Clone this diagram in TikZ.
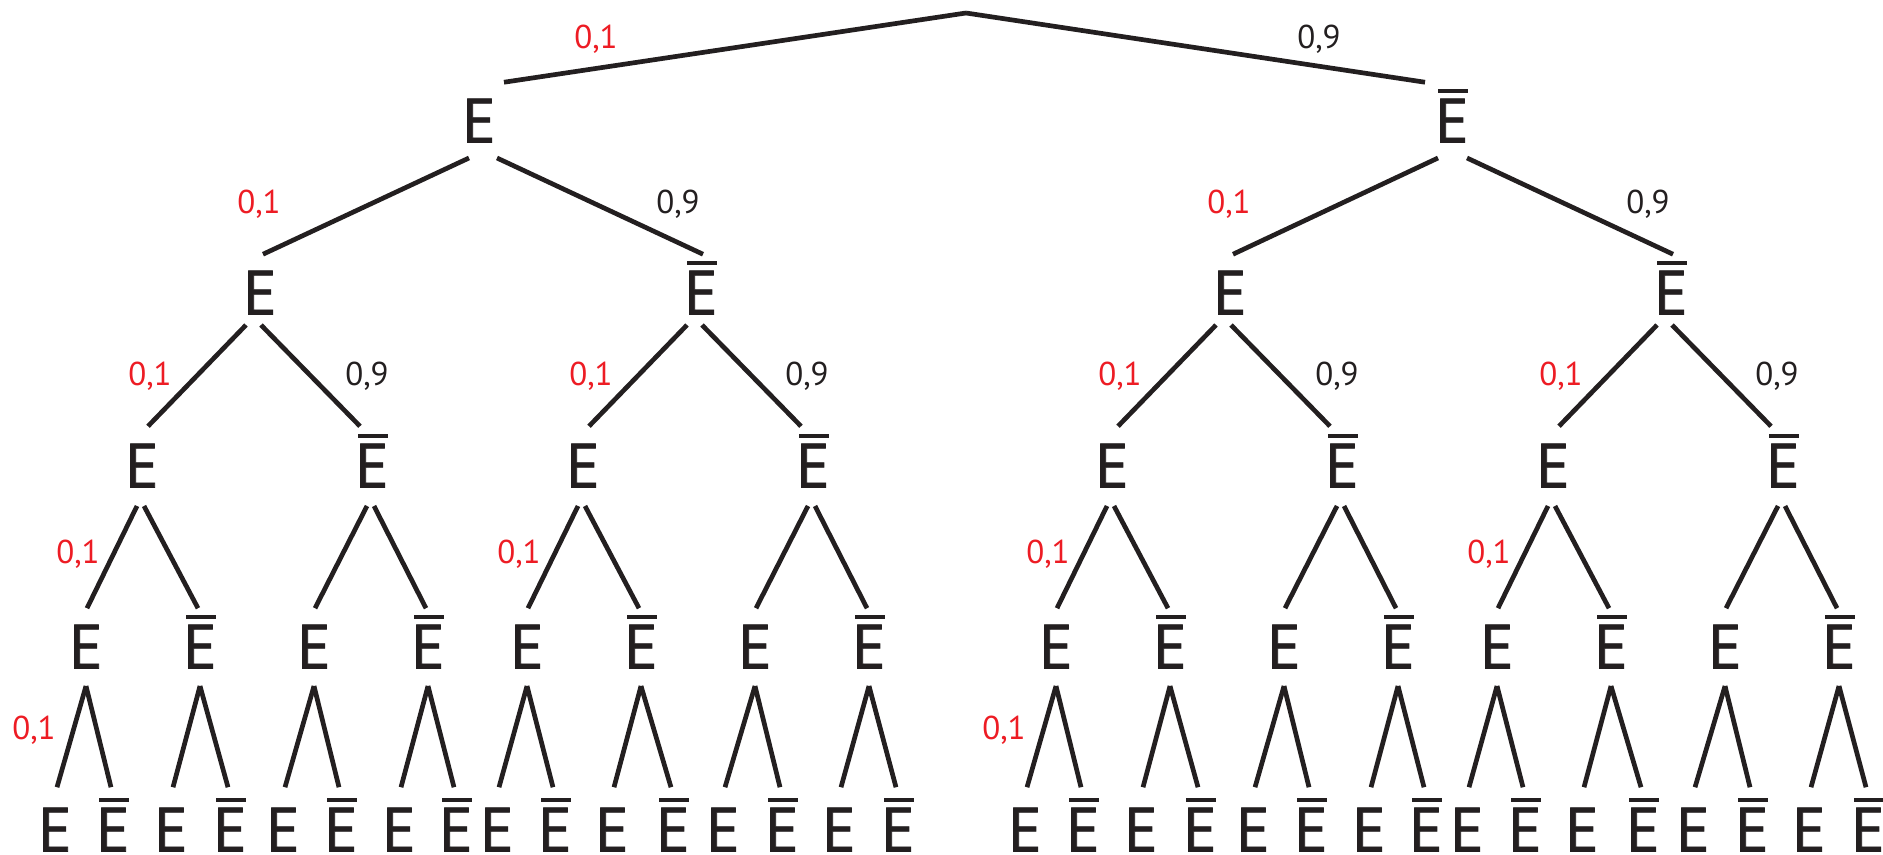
\documentclass[tikz,border=0pt]{standalone}
\usepackage{fontspec}
\setmainfont{PT Sans}
\newfontfamily\efont{PT Sans}[FakeBold=1.2]
\usetikzlibrary{calc}
\definecolor{ink}{RGB}{35,31,32}
\definecolor{pred}{RGB}{237,28,36}
\newcommand{\Ebar}{\leavevmode\smash{\rlap{\hspace{0.05em}\raisebox{\dimexpr\fontcharht\font`E+0.09em\relax}{\rule{0.47em}{0.07em}}}}E}
% #1 text of the subtree root, #2 its x, #3/#4 x offsets of its two branch starts
\newcommand{\halftree}[4]{%
  \node[ev] (n1) at (#2,143) {#1};
  \node[ev] (n2a) at (260,315) {E};
  \node[ev] (n2b) at (701,315) {\Ebar};
  \node[ev] (n3a) at (142,488) {E};
  \node[ev] (n3b) at (372,488) {\Ebar};
  \node[ev] (n3c) at (583,488) {E};
  \node[ev] (n3d) at (813,488) {\Ebar};
  \foreach \i/\x in {1/86,3/314,5/527,7/755} \node[ev] (n4-\i) at (\x,669) {E};
  \foreach \i/\x in {2/200,4/428,6/641,8/869} \node[ev] (n4-\i) at (\x,669) {\Ebar};
  \foreach \i/\x in {1/55,3/171,5/283,7/399,9/497,11/612,13/723,15/839} \node[ev] (n5-\i) at (\x,852) {E};
  \foreach \i/\x in {2/113,4/230,6/341,8/456,10/555,12/673,14/782,16/898} \node[ev] (n5-\i) at (\x,852) {\Ebar};
  \draw[br] ($(n1.south)+(#3,15)$) -- ($(n2a.north)+(3,-16)$);
  \draw[br] ($(n1.south)+(#4,15)$) -- ($(n2b.north)+(2,-16)$);
  \foreach \p/\l/\r in {n2a/n3a/n3b, n2b/n3c/n3d} {
    \draw[br] ($(\p.south)+(-14,10)$) -- ($(\l.north)+(6,-17)$);
    \draw[br] ($(\p.south)+(1,10)$) -- ($(\r.north)+(-12,-17)$);
  }
  \foreach \p/\l/\r in {n3a/n4-1/n4-2, n3b/n4-3/n4-4, n3c/n4-5/n4-6, n3d/n4-7/n4-8} {
    \draw[br] ($(\p.south)+(-5,18)$) -- ($(\l.north)+(1,-16)$);
    \draw[br] ($(\p.south)+(2,18)$) -- ($(\r.north)+(-2,-16)$);
  }
  \foreach \p in {1,...,8} {
    \pgfmathtruncatemacro\l{2*\p-1}
    \pgfmathtruncatemacro\r{2*\p}
    \draw[br] ($(n4-\p.south)+(0,17)$) -- ($(n5-\l.north)+(2,-20)$);
    \draw[br] ($(n4-\p.south)+(0,17)$) -- ($(n5-\r.north)+(-2,-20)$);
  }
  \node[pr] (l12a) at (259,214) {0,1};
  \node[pk] (l12b) at (678,214) {0,9};
  \node[pr] (l23a) at (150,386) {0,1};
  \node[pk] (l23b) at (367,386) {0,9};
  \node[pr] (l23c) at (591,386) {0,1};
  \node[pk] (l23d) at (807,386) {0,9};
  \node[pr] (l34a) at (78,563) {0,1};
  \node[pr] (l34c) at (519,563) {0,1};
  \node[pr] (l45a) at (34,739) {0,1};
}
\begin{document}
\begin{tikzpicture}[x=0.5pt,y=-0.5pt,
  ev/.style={inner sep=0pt, anchor=south, font=\efont\fontsize{31.4}{32}\selectfont, text=ink},
  pr/.style={inner sep=0pt, anchor=base, font=\fontsize{16.5}{17}\selectfont, text=pred},
  pk/.style={pr, text=ink},
  br/.style={draw=ink, line width=2.35pt}]
\useasboundingbox (0,0) rectangle (1883,855);
\begin{scope}[name prefix=a-]
  \halftree{E}{479}{-10}{18}
\end{scope}
\begin{scope}[name prefix=b-, xshift=485pt]
  \halftree{\Ebar}{482}{-14}{15}
\end{scope}
\coordinate (root) at (966,13);
\draw[br] (root) -- ($(a-n1.north)+(25,-16)$);
\draw[br] (root) -- ($(b-n1.north)+(-27,-16)$);
\node[pr] (t1) at (596,49) {0,1};
\node[pk] (t9) at (1319,49) {0,9};
\end{tikzpicture}
\end{document}
